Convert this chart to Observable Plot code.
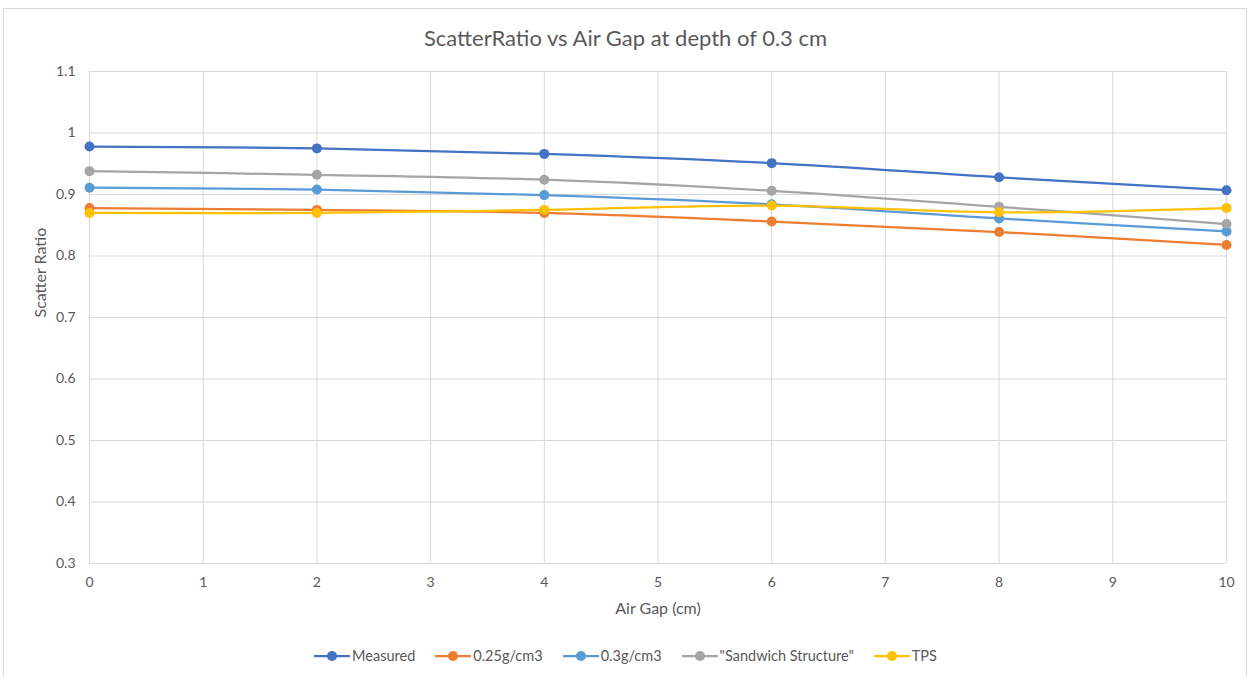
<!DOCTYPE html>
<html>
<head>
<meta charset="utf-8">
<script src="https://cdn.jsdelivr.net/npm/d3@7"></script>
<script src="https://cdn.jsdelivr.net/npm/@observablehq/plot@0.6"></script>
<style>
  body { margin: 0; background: #fff; font-family: Lato, "Open Sans", sans-serif; }
  #frame { position: absolute; left: 3px; top: 8px; width: 1244px; height: 680px; border: 1px solid #d9d9d9; box-sizing: border-box; }
  #title { position: absolute; left: 0; width: 1251px; top: 24px; text-align: center; font-size: 22px; color: #595959; }
  #chart { position: absolute; left: 0; top: 50px; }
  #legend { position: absolute; left: 0; width: 1251px; top: 647px; display: flex; justify-content: center; gap: 20px; font-size: 14.5px; color: #595959; }
  .item { display: flex; align-items: center; gap: 2px; }
</style>
</head>
<body>
<div id="frame"></div>
<div id="title">ScatterRatio vs Air Gap at depth of 0.3 cm</div>
<div id="chart"></div>
<div id="legend"></div>
<script>
const airGap = [0, 2, 4, 6, 8, 10];
const seriesNames = ["Measured", "0.25g/cm3", "0.3g/cm3", "\"Sandwich Structure\"", "TPS"];
const colors = ["#4472C4", "#ED7D31", "#5B9BD5", "#A5A5A5", "#FFC000"];
const measured  = [0.978, 0.975, 0.966, 0.951, 0.928, 0.907];
const g025      = [0.878, 0.875, 0.870, 0.856, 0.839, 0.818];
const g03       = [0.911, 0.908, 0.899, 0.884, 0.861, 0.840];
const sandwich  = [0.938, 0.932, 0.924, 0.906, 0.880, 0.852];
const tps       = [0.870, 0.870, 0.875, 0.882, 0.871, 0.878];
const xTicks = [0, 1, 2, 3, 4, 5, 6, 7, 8, 9, 10];
const yTicks = [0.3, 0.4, 0.5, 0.6, 0.7, 0.8, 0.9, 1.0, 1.1];

const allSeries = [measured, g025, g03, sandwich, tps];
const data = [];
allSeries.forEach((vals, si) => vals.forEach((v, i) => data.push({series: seriesNames[si], x: airGap[i], y: v})));

const plot = Plot.plot({
  width: 1251,
  height: 580,
  marginLeft: 89,
  marginRight: 25,
  marginTop: 21,
  marginBottom: 67,
  style: { fontFamily: "Lato, 'Open Sans', sans-serif", fontSize: "14px", color: "#595959", background: "transparent" },
  x: { domain: [0, 10] },
  y: { domain: [0.3, 1.1] },
  color: { domain: seriesNames, range: colors },
  marks: [
    Plot.gridX(xTicks, { stroke: "#d9d9d9", strokeOpacity: 1, strokeWidth: 1 }),
    Plot.gridY(yTicks, { stroke: "#d9d9d9", strokeOpacity: 1, strokeWidth: 1 }),
    Plot.axisX(xTicks, { tickSize: 0, tickPadding: 14, label: null, tickFormat: d => String(d), fontSize: 14, fill: "#595959" }),
    Plot.axisY(yTicks, { tickSize: 0, tickPadding: 14, label: null, tickFormat: d => String(+d.toFixed(1)), fontSize: 14, fill: "#595959" }),
    Plot.text(["Air Gap (cm)"], { frameAnchor: "bottom", lineAnchor: "middle", dy: 45, fontSize: 16, fill: "#595959" }),
    Plot.text(["Scatter Ratio"], { frameAnchor: "left", dx: -49, rotate: -90, fontSize: 16, fill: "#595959" }),
    Plot.line(data, { x: "x", y: "y", z: "series", stroke: "series", strokeWidth: 2.25, curve: "catmull-rom" }),
    Plot.dot(data, { x: "x", y: "y", fill: "series", r: 5 })
  ]
});
document.getElementById("chart").appendChild(plot);

const legend = document.getElementById("legend");
seriesNames.forEach((name, i) => {
  const item = document.createElement("div");
  item.className = "item";
  item.innerHTML = `<svg width="36" height="12"><line x1="0" x2="36" y1="6" y2="6" stroke="${colors[i]}" stroke-width="2.25"/><circle cx="18" cy="6" r="5" fill="${colors[i]}"/></svg><span>${name}</span>`;
  legend.appendChild(item);
});
</script>
</body>
</html>
